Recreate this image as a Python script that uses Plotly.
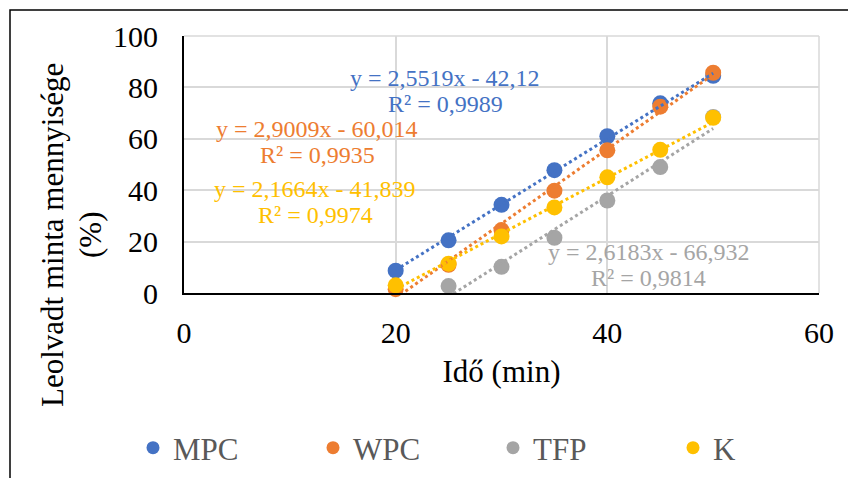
import plotly.graph_objects as go

# ---- data ----
series_names = ["MPC", "WPC", "TFP", "K"]
colors = ["#4472C4", "#ED7D31", "#A5A5A5", "#FFC000"]

mpc_x = [20, 25, 30, 35, 40, 45, 50]
mpc_y = [8.7, 20.5, 34.3, 47.8, 61.0, 73.8, 84.5]
wpc_x = [20, 25, 30, 35, 40, 45, 50]
wpc_y = [1.5, 11.0, 24.5, 39.8, 55.5, 72.5, 85.7]
tfp_x = [25, 30, 35, 40, 45, 50]
tfp_y = [2.7, 10.2, 21.5, 36.0, 49.0, 68.5]
k_x = [20, 25, 30, 35, 40, 45, 50]
k_y = [3.0, 11.4, 22.0, 33.3, 45.0, 55.7, 68.2]

slopes = [2.5519, 2.9009, 2.6183, 2.1664]
intercepts = [-42.12, -60.014, -66.932, -41.839]
eq_texts = ["y = 2,5519x - 42,12", "y = 2,9009x - 60,014",
            "y = 2,6183x - 66,932", "y = 2,1664x - 41,839"]
r2_texts = ["R² = 0,9989", "R² = 0,9935", "R² = 0,9814", "R² = 0,9974"]
label_x = [24.7, 12.6, 43.9, 12.4]
label_y1 = [83.7, 63.8, 16.0, 40.5]
label_y2 = [73.5, 53.7, 5.8, 30.4]

y_title_lines = ["Leolvadt minta mennyisége", "(%)"]
x_title = "Idő (min)"

xs = [mpc_x, wpc_x, tfp_x, k_x]
ys = [mpc_y, wpc_y, tfp_y, k_y]

FONT = "Liberation Serif"

fig = go.Figure()
for name, c, x, y in zip(series_names, colors, xs, ys):
    fig.add_trace(go.Scatter(x=x, y=y, mode="markers", name=name,
                             marker=dict(color=c, size=16), showlegend=False,
                             cliponaxis=False))
for c, x, a, b in zip(colors, xs, slopes, intercepts):
    x0, x1 = min(x), max(x)
    fig.add_trace(go.Scatter(x=[x0, x1], y=[a * x0 + b, a * x1 + b], mode="lines",
                             line=dict(color=c, width=3, dash="dot"),
                             showlegend=False, hoverinfo="skip"))
for name, c in zip(series_names, colors):
    fig.add_trace(go.Scatter(x=[None], y=[None], mode="markers", name=name,
                             marker=dict(color=c, size=13)))

for i, c in enumerate(colors):
    fig.add_annotation(x=label_x[i], y=label_y1[i], text=eq_texts[i], showarrow=False,
                       font=dict(family=FONT, size=24, color=c), xanchor="center", yanchor="middle")
    fig.add_annotation(x=label_x[i], y=label_y2[i], text=r2_texts[i], showarrow=False,
                       font=dict(family=FONT, size=24, color=c), xanchor="center", yanchor="middle")

# y-axis title (two lines)
for px_x, line in zip([52, 90], y_title_lines):
    fig.add_annotation(xref="paper", yref="paper", x=(px_x - 184) / 635, y=(293 - 235) / 257,
                       text=line, textangle=-90, showarrow=False,
                       font=dict(family=FONT, size=31, color="black"),
                       xanchor="center", yanchor="middle")

# outer chart border
fig.add_shape(type="rect", xref="paper", yref="paper",
              x0=(10 - 184) / 635, x1=(860 - 184) / 635,
              y0=(293 - 490) / 257, y1=(293 - 10) / 257,
              line=dict(color="black", width=1.5), fillcolor="rgba(0,0,0,0)", layer="below")

fig.update_layout(
    width=848, height=478,
    margin=dict(l=184, r=29, t=36, b=185, autoexpand=False),
    paper_bgcolor="white", plot_bgcolor="white",
    font=dict(family=FONT, color="black"),
    xaxis=dict(range=[0, 60], dtick=20, showgrid=True, gridcolor="#D9D9D9", gridwidth=1.5,
               showline=True, linecolor="black", linewidth=2, zeroline=False,
               mirror=False, ticks="", tickfont=dict(family=FONT, size=30, color="black"),
               ticklabelstandoff=12,
               title=dict(text=x_title, font=dict(family=FONT, size=31, color="black"),
                          standoff=12)),
    yaxis=dict(range=[0, 100], dtick=20, showgrid=True, gridcolor="#D9D9D9", gridwidth=1.5,
               showline=True, linecolor="black", linewidth=2, zeroline=False,
               ticks="", tickfont=dict(family=FONT, size=30, color="black"),
               ticklabelstandoff=18),
    legend=dict(orientation="h", x=(133 - 184) / 635, y=(293 - 421) / 257,
                xanchor="left", yanchor="top", entrywidth=135, entrywidthmode="pixels",
                font=dict(family=FONT, size=31, color="#595959"), bgcolor="rgba(0,0,0,0)",
                itemsizing="trace"),
)
# right/top border gray lines of plot area
fig.add_shape(type="line", xref="paper", yref="paper", x0=0, x1=1, y0=1, y1=1,
              line=dict(color="#D9D9D9", width=1.5), layer="below")
fig.add_shape(type="line", xref="paper", yref="paper", x0=1, x1=1, y0=0, y1=1,
              line=dict(color="#D9D9D9", width=1.5), layer="below")

fig.write_html("out.html")
